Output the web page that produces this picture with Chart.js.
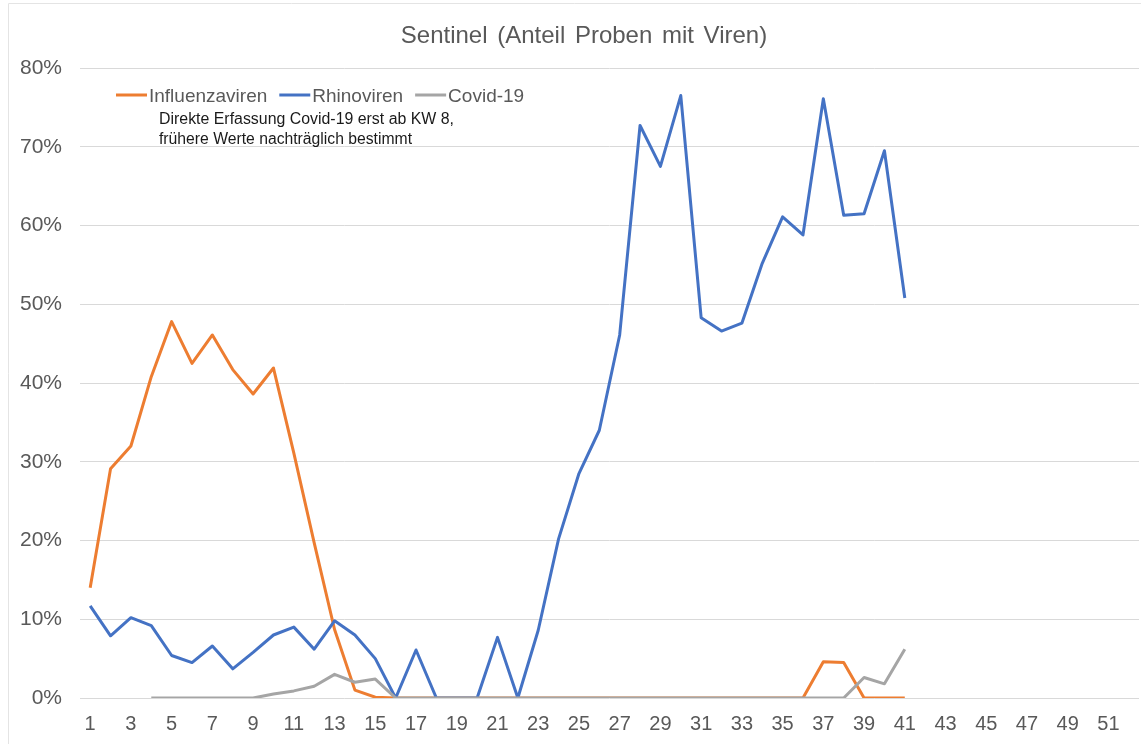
<!DOCTYPE html>
<html>
<head>
<meta charset="utf-8">
<script src="https://cdn.jsdelivr.net/npm/chart.js@4/dist/chart.umd.min.js"></script>
<style>
	html, body {
		margin: 0;
		padding: 0;
		background: #ffffff;
	}
	#wrap {
		position: relative;
		width: 1146px;
		height: 744px;
	}
</style>
</head>
<body>
<div id="wrap">
	<canvas id="chart" width="1146" height="744"></canvas>
</div>
<script>
// Kalenderwochen
const weeks = [
	1, 2, 3, 4, 5, 6, 7, 8, 9, 10, 11, 12, 13, 14, 15, 16, 17, 18, 19, 20,
	21, 22, 23, 24, 25, 26, 27, 28, 29, 30, 31, 32, 33, 34, 35, 36, 37, 38, 39, 40,
	41, 42, 43, 44, 45, 46, 47, 48, 49, 50, 51, 52
];
const weekTicks = [1, 3, 5, 7, 9, 11, 13, 15, 17, 19, 21, 23, 25, 27, 29, 31, 33, 35, 37, 39, 41, 43, 45, 47, 49, 51];
const percentTicks = [0, 10, 20, 30, 40, 50, 60, 70, 80];

// Anteil in Prozent, KW 1-41
const influenza = [
	14.0, 29.1, 32.0, 40.8, 47.8, 42.5, 46.1, 41.7, 38.6, 41.9,
	31.1, 19.7, 8.7, 1.0, 0.1, 0, 0, 0, 0, 0,
	0, 0, 0, 0, 0, 0, 0, 0, 0, 0,
	0, 0, 0, 0, 0, 0, 4.6, 4.5, 0, 0,
	0
];
const rhino = [
	11.7, 7.9, 10.2, 9.2, 5.4, 4.5, 6.6, 3.7, 5.8, 8.0,
	9.0, 6.2, 9.8, 8.0, 5.0, 0, 6.1, 0, 0, 0,
	7.7, 0, 8.6, 20.2, 28.5, 34.0, 46.1, 72.7, 67.5, 76.5,
	48.3, 46.6, 47.6, 55.2, 61.1, 58.8, 76.1, 61.3, 61.5, 69.5,
	50.8
];
const covid = [
	null, null, null, 0, 0, 0, 0, 0, 0, 0.5,
	0.9, 1.5, 3.0, 2.0, 2.4, 0, 0, 0, 0, 0,
	0, 0, 0, 0, 0, 0, 0, 0, 0, 0,
	0, 0, 0, 0, 0, 0, 0, 0, 2.6, 1.8,
	6.2
];

const titleText = "Sentinel (Anteil Proben mit Viren)";
const noteLines = [
	"Direkte Erfassung Covid-19 erst ab KW 8,",
	"frühere Werte nachträglich bestimmt"
];

const textColor = "#595959";
const gridColor = "#d9d9d9";
const fontFamily = "'Liberation Sans', Arial, sans-serif";

function toPoints(values) {
	return values.map((v, i) => ({ x: weeks[i], y: v }));
}

// Titel, Legende und Hinweis im Diagramm
const overlayPlugin = {
	id: "overlay",
	afterDraw(chart) {
		const ctx = chart.ctx;
		ctx.save();

		// Rahmen
		ctx.strokeStyle = "#e4e4e4";
		ctx.lineWidth = 1;
		ctx.beginPath();
		ctx.moveTo(8.5, 744);
		ctx.lineTo(8.5, 3.5);
		ctx.lineTo(1141, 3.5);
		ctx.stroke();

		ctx.fillStyle = textColor;
		ctx.font = "24px " + fontFamily;
		if ("wordSpacing" in ctx) {
			ctx.wordSpacing = "3px";
		}
		ctx.textAlign = "center";
		ctx.textBaseline = "alphabetic";
		ctx.fillText(titleText, 584, 43);
		if ("wordSpacing" in ctx) {
			ctx.wordSpacing = "0px";
		}

		ctx.font = "19px " + fontFamily;
		ctx.textAlign = "left";
		let x = 116;
		const y = 95;
		chart.data.datasets.forEach(ds => {
			ctx.strokeStyle = ds.borderColor;
			ctx.lineWidth = 3;
			ctx.beginPath();
			ctx.moveTo(x, y);
			ctx.lineTo(x + 31, y);
			ctx.stroke();
			x += 33;
			ctx.fillStyle = textColor;
			ctx.fillText(ds.label, x, y + 7);
			x += ctx.measureText(ds.label).width + 12;
		});

		ctx.fillStyle = "#1a1a1a";
		ctx.font = "16px " + fontFamily;
		ctx.fillText(noteLines[0], 159, 124, 295);
		ctx.fillText(noteLines[1], 159, 144, 253);
		ctx.restore();
	}
};

const datasets = [
	{
		label: "Influenzaviren",
		data: toPoints(influenza),
		borderColor: "#ed7d31",
		order: 3
	},
	{
		label: "Rhinoviren",
		data: toPoints(rhino),
		borderColor: "#4472c4",
		order: 2
	},
	{
		label: "Covid-19",
		data: toPoints(covid),
		borderColor: "#a5a5a5",
		order: 1
	}
];
datasets.forEach(ds => {
	ds.borderWidth = 3;
	ds.pointRadius = 0;
	ds.tension = 0;
	ds.fill = false;
	ds.spanGaps = false;
	ds.borderJoinStyle = "round";
});

const chart = new Chart(document.getElementById("chart"), {
	type: "line",
	data: {
		datasets: datasets
	},
	options: {
		responsive: false,
		animation: false,
		layout: {
			padding: { top: 68, right: 7, left: 0, bottom: 0 }
		},
		plugins: {
			legend: { display: false },
			title: { display: false },
			tooltip: { enabled: false }
		},
		scales: {
			x: {
				type: "linear",
				min: 0.5,
				max: 52.5,
				grid: { display: false },
				border: { display: false },
				afterBuildTicks: scale => {
					scale.ticks = weekTicks.map(v => ({ value: v }));
				},
				afterFit: scale => {
					scale.height = 46;
				},
				ticks: {
					color: textColor,
					font: { family: fontFamily, size: 20 },
					padding: 6,
					maxRotation: 0,
					autoSkip: false,
					callback: v => String(v)
				}
			},
			y: {
				min: 0,
				max: 80,
				afterBuildTicks: scale => {
					scale.ticks = percentTicks.map(v => ({ value: v }));
				},
				afterFit: scale => {
					scale.width = 80;
				},
				grid: {
					color: gridColor,
					lineWidth: 1,
					drawTicks: false
				},
				border: { display: false },
				ticks: {
					color: textColor,
					font: { family: fontFamily, size: 21 },
					padding: 18,
					callback: v => v + "%"
				}
			}
		}
	},
	plugins: [overlayPlugin]
});
</script>
</body>
</html>
